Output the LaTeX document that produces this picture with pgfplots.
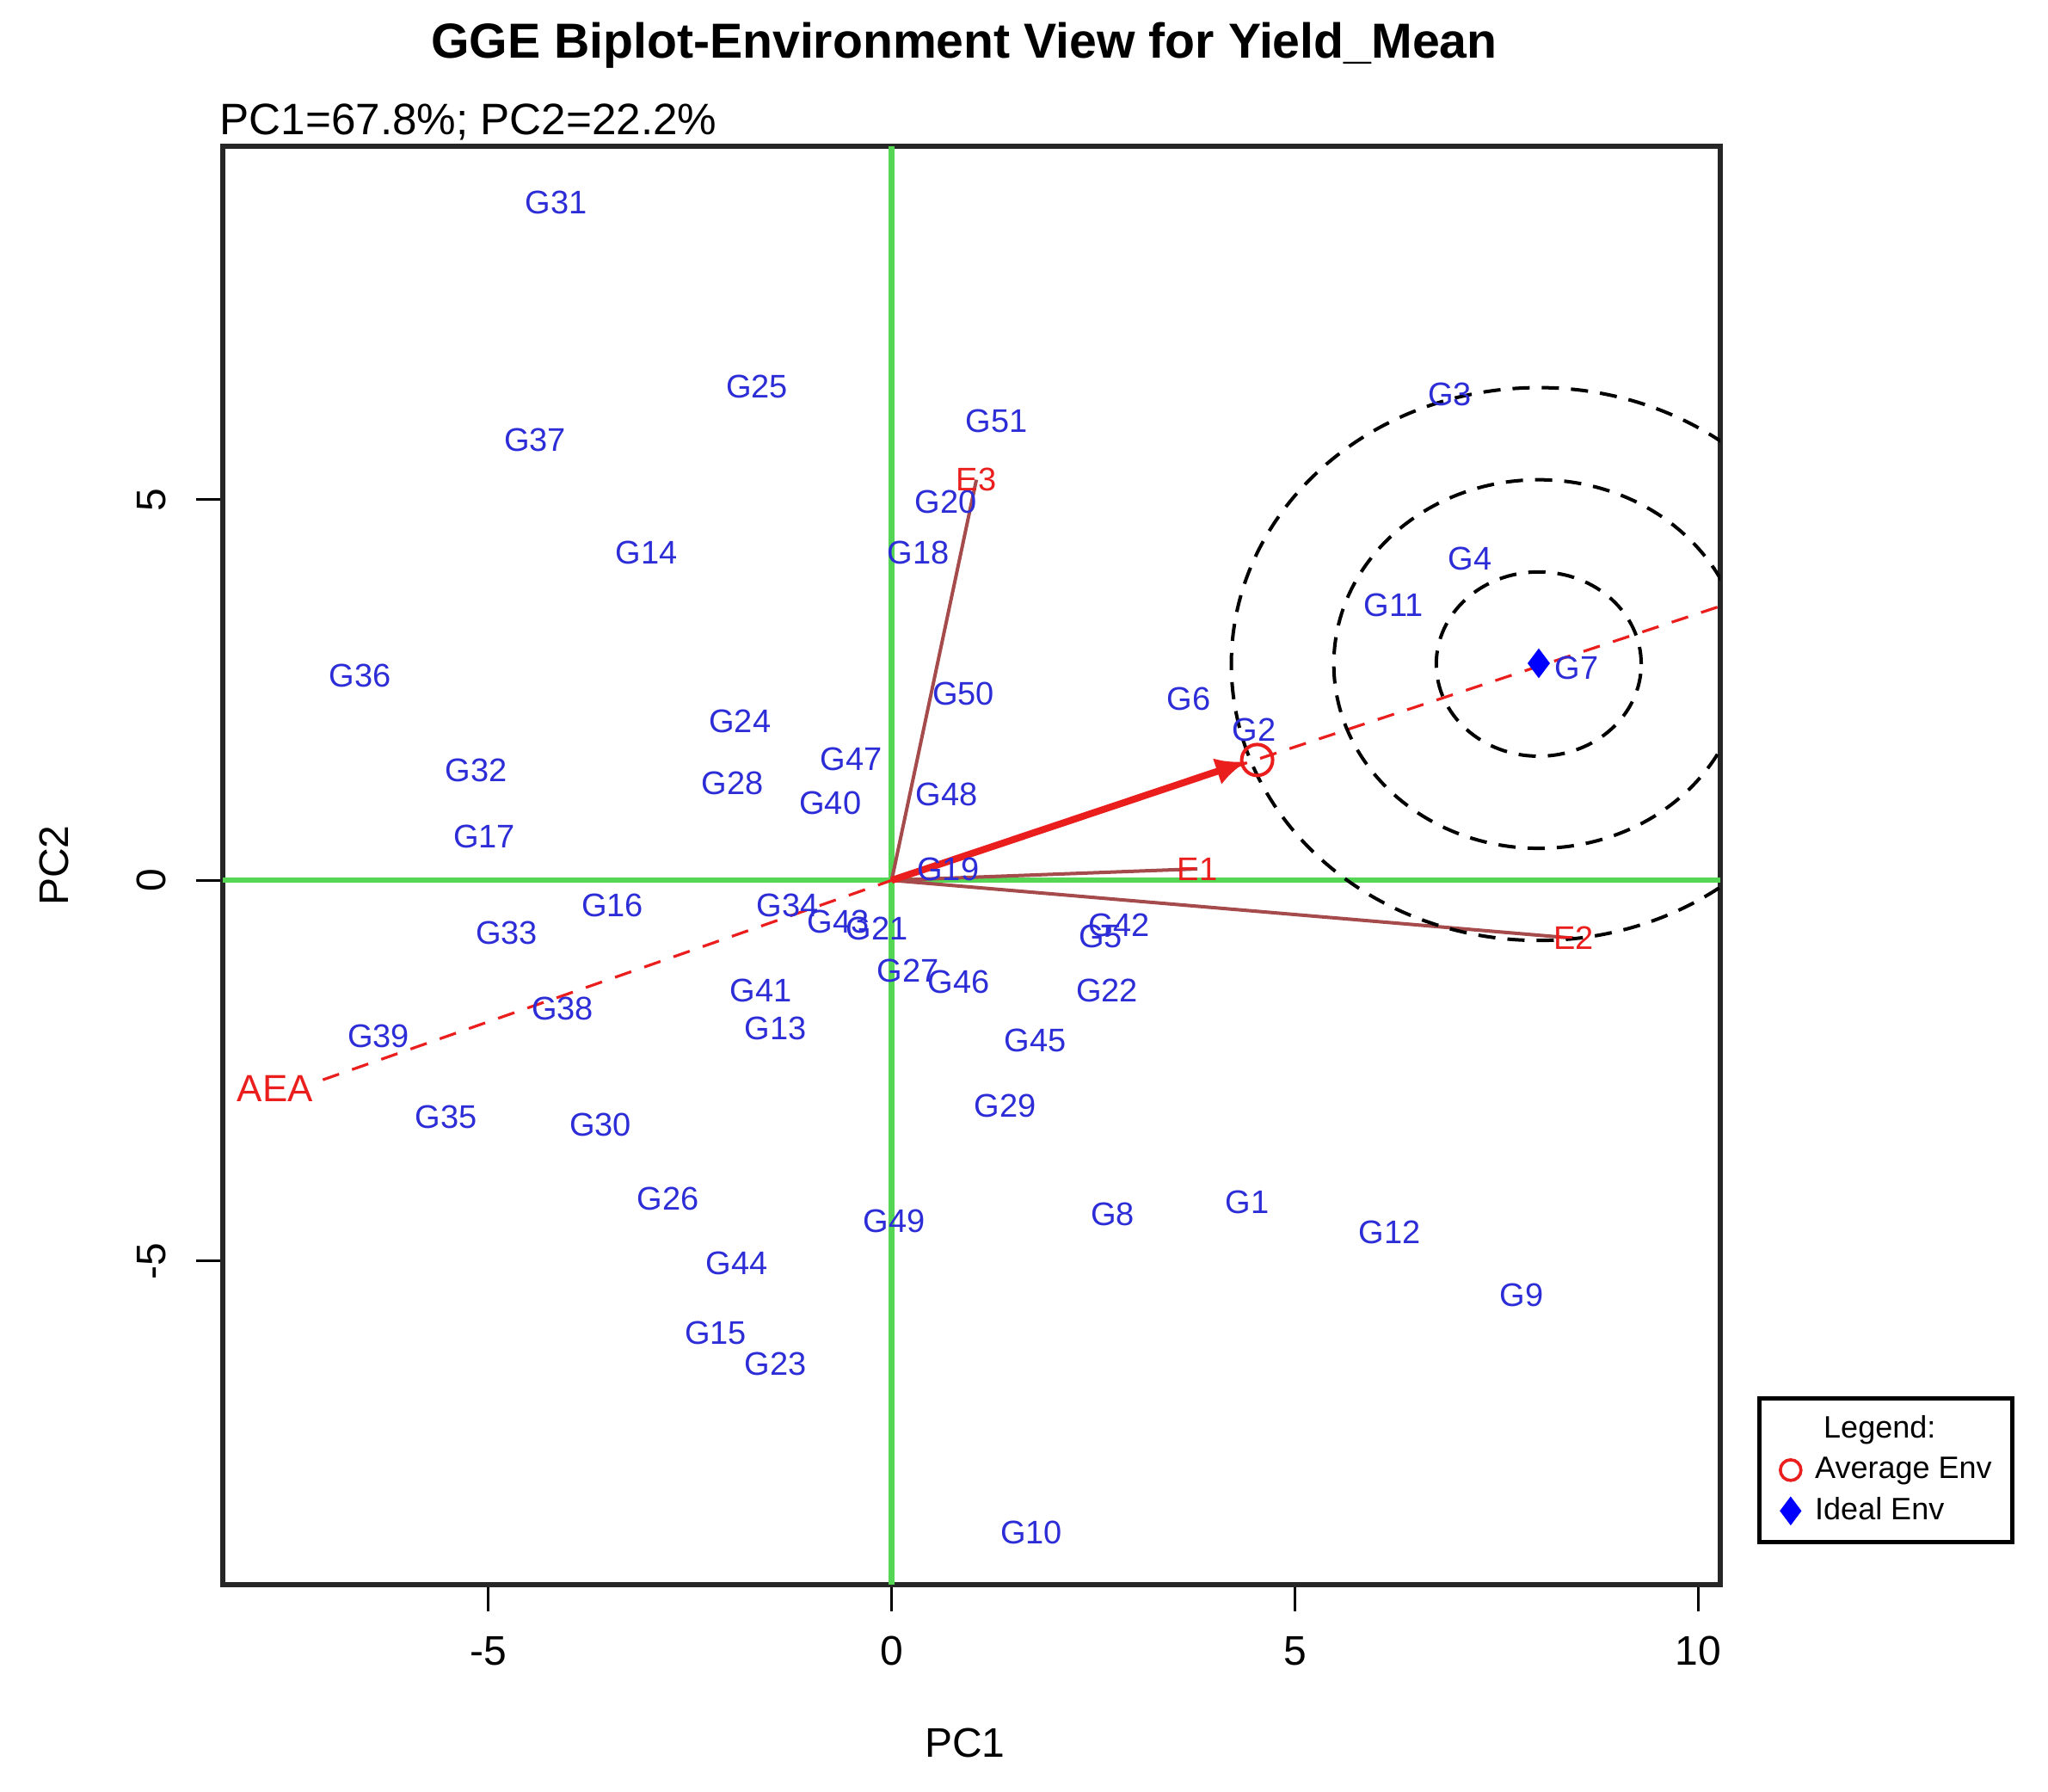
\documentclass[border=0pt]{standalone}
\usepackage{pgfplots}
\usepackage{pgfplotstable}
\pgfplotsset{compat=1.18}
\usepackage{fontspec}
\setmainfont{Liberation Sans}
\usetikzlibrary{arrows.meta}

\definecolor{genblue}{RGB}{45,45,215}
\definecolor{envred}{RGB}{235,30,30}
\definecolor{vecbrown}{RGB}{165,75,75}
\definecolor{axgreen}{RGB}{85,215,85}

% legend image: a single mark set near the left of its cell
\pgfplotsset{leftmark legend/.style={
  legend image code/.code={\draw[##1] plot coordinates {(4.5pt,0pt)};
    \path (0pt,0pt) (9pt,0pt);}}}

% genotype scores (PC1, PC2)
\pgfplotstableread{
x y name
4.41 -4.23 G1
4.49 1.98 G2
6.92 6.38 G3
7.17 4.22 G4
2.59 -0.74 G5
3.68 2.38 G6
8.49 2.79 G7
2.74 -4.38 G8
7.81 -5.45 G9
1.73 -8.57 G10
6.22 3.61 G11
6.17 -4.62 G12
-1.44 -1.94 G13
-3.04 4.30 G14
-2.18 -5.94 G15
-3.46 -0.33 G16
-5.05 0.58 G17
0.33 4.30 G18
0.70 0.15 G19
0.67 4.97 G20
-0.18 -0.64 G21
2.67 -1.45 G22
-1.44 -6.35 G23
-1.88 2.09 G24
-1.67 6.48 G25
-2.77 -4.18 G26
0.20 -1.19 G27
-1.97 1.28 G28
1.41 -2.96 G29
-3.61 -3.21 G30
-4.16 8.90 G31
-5.15 1.44 G32
-4.77 -0.69 G33
-1.29 -0.33 G34
-5.52 -3.11 G35
-6.59 2.69 G36
-4.42 5.78 G37
-4.08 -1.69 G38
-6.36 -2.05 G39
-0.76 1.02 G40
-1.62 -1.45 G41
2.82 -0.59 G42
-0.66 -0.54 G43
-1.92 -5.03 G44
1.78 -2.10 G45
0.83 -1.34 G46
-0.50 1.59 G47
0.68 1.13 G48
0.03 -4.48 G49
0.89 2.45 G50
1.30 6.03 G51
}\genotypes

% environment scores
\pgfplotstableread{
x y name
3.79 0.15 E1
8.45 -0.76 E2
1.05 5.26 E3
}\environments

\begin{document}
\begin{tikzpicture}
\begin{axis}[
  name=main,
  at={(0,0)}, anchor=south west,
  scale only axis, width=435.25pt, height=418pt,
  xmin=-8.29, xmax=10.27, ymin=-9.25, ymax=9.64,
  xtick={-5,0,5,10}, xticklabels={-5,0,5,10},
  ytick={-5,0,5}, yticklabels={-5,0,5},
  xtick pos=bottom, ytick pos=left,
  tick align=outside, major tick length=7.75pt,
  tick style={black, line width=0.8pt},
  axis line style={black!85, line width=1.4pt},
  ticklabel style={font=\fontsize{12}{14}\selectfont},
  xticklabel style={anchor=base},
  xticklabel shift=15.5pt,
  yticklabel style={rotate=90, anchor=base},
  yticklabel shift=8.75pt,
  title={GGE Biplot-Environment View for Yield\_Mean},
  title style={font=\bfseries\fontsize{14.3}{16}\selectfont,
    at={(axis description cs:0.495,1)}, anchor=base, yshift=19.5pt},
  xlabel={PC1},
  xlabel style={font=\fontsize{12}{14}\selectfont,
    at={([yshift=-50pt]axis description cs:0.4957,0)}, anchor=base},
  ylabel={PC2},
  ylabel style={font=\fontsize{12}{14}\selectfont,
    at={([xshift=-44.75pt]axis description cs:0,0.5)}, anchor=base},
  legend style={at={(1.0247,0.131)}, anchor=north west,
    draw=black, line width=1.2pt, fill=white,
    font=\fontsize{9}{10}\selectfont,
    inner xsep=4pt, inner ysep=3pt, row sep=0pt},
  legend cell align=left,
]
% legend entries
\addlegendimage{empty legend}
\addlegendentry{\hspace{2.5pt}Legend:}
\addlegendimage{only marks, mark=o, envred, mark size=3pt, line width=0.9pt,
  leftmark legend}
\addlegendentry{Average Env}
\addlegendimage{only marks, mark=diamond*, blue, mark size=3.2pt,
  leftmark legend}
\addlegendentry{Ideal Env}

% genotype labels
\addplot[forget plot, only marks, mark=none, nodes near coords,
  point meta=explicit symbolic,
  nodes near coords style={anchor=center, inner sep=0pt, text=genblue,
    font=\fontsize{9.5}{10}\selectfont}]
  table[x=x, y=y, meta=name]{\genotypes};

% reference axes through the origin
\addplot[forget plot, axgreen, line width=1.6pt] coordinates {(-8.29,0) (10.27,0)};
\addplot[forget plot, axgreen, line width=1.6pt] coordinates {(0,-9.25) (0,9.64)};

% environment vectors
\addplot[forget plot, vecbrown, line width=1pt] coordinates {(0,0) (3.79,0.15)};
\addplot[forget plot, vecbrown, line width=1pt] coordinates {(0,0) (8.45,-0.76)};
\addplot[forget plot, vecbrown, line width=1pt] coordinates {(0,0) (1.05,5.26)};

% average environment axis
\addplot[forget plot, envred, line width=0.8pt, dash pattern=on 5pt off 4pt]
  coordinates {(-7.05,-2.62) (0,0) (10.27,3.60)};

% concentric circles around the ideal environment
\draw[black, line width=1pt, dash pattern=on 5pt off 3.5pt]
  (axis cs:8.02,2.84) ellipse [x radius=1.27, y radius=1.21];
\draw[black, line width=1pt, dash pattern=on 5pt off 3.5pt]
  (axis cs:8.02,2.84) ellipse [x radius=2.54, y radius=2.42];
\draw[black, line width=1pt, dash pattern=on 5pt off 3.5pt]
  (axis cs:8.02,2.84) ellipse [x radius=3.81, y radius=3.63];

% average environment arrow
\addplot[forget plot, envred, line width=2pt, -{Latex[length=9pt,width=8pt]}]
  coordinates {(0,0) (4.40,1.56)};

% environment labels
\addplot[forget plot, only marks, mark=none, nodes near coords,
  point meta=explicit symbolic,
  nodes near coords style={anchor=center, inner sep=0pt, text=envred,
    font=\fontsize{9.5}{10}\selectfont}]
  table[x=x, y=y, meta=name]{\environments};
\addplot[forget plot, only marks, mark=none, nodes near coords,
  point meta=explicit symbolic,
  nodes near coords style={anchor=center, inner sep=0pt, text=envred,
    font=\fontsize{11}{12}\selectfont}]
  coordinates {(-7.64,-2.73) [AEA]};

% average and ideal environment markers
\addplot[forget plot, only marks, mark=o, mark size=4.5pt, envred, line width=1pt]
  coordinates {(4.53,1.58)};
\addplot[forget plot, only marks, mark=diamond*, mark size=4pt, blue]
  coordinates {(8.02,2.85)};
\end{axis}
\node[anchor=base west, font=\fontsize{12.8}{14}\selectfont, inner sep=0pt]
  at ([xshift=-1pt, yshift=3.25pt]main.north west) {PC1=67.8\%; PC2=22.2\%};
\pgfresetboundingbox
\path[use as bounding box] (-64.75pt,-60pt) rectangle (530.5pt,460.5pt);
\end{tikzpicture}
\end{document}
